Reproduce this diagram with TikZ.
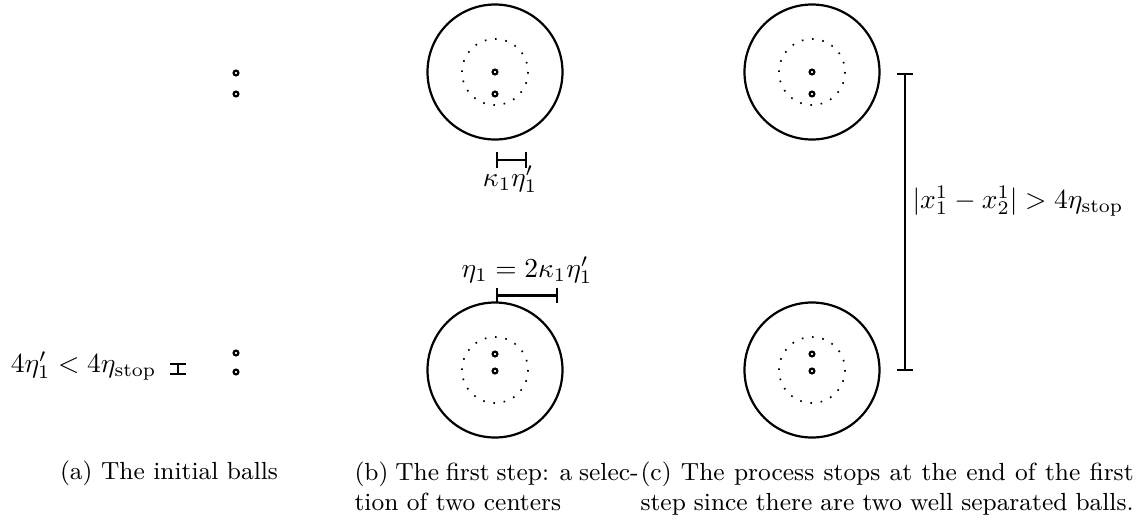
\documentclass[tikz,border=0pt]{standalone}
\usetikzlibrary{arrows.meta}
\begin{document}
\begin{tikzpicture}[x=0.3636pt,y=-0.3636pt,
    ball/.style={thick},
    core/.style={line width=0.6pt, dash pattern=on 0.6pt off 3.17pt},
    ctr/.style={thick},
    gap/.style={thick, {Bar[width=5.5pt]}-{Bar[width=5.5pt]}},
    lbl/.style={inner sep=0pt},
    capt/.style={inner sep=0pt, anchor=north west, align=justify, font=\small}]
    \useasboundingbox (0,0) rectangle (1139,521);

    % (a) the initial balls
    \foreach \y in {73,94,353,372}
        \draw[ctr] (236,\y) circle (2.4);
    \coordinate (a1) at (178,363);
    \coordinate (a2) at (178,375);
    \draw[gap] (a1) -- (a2);
    \node[lbl, anchor=base east] (la) at (157,372) {$4\eta'_1 < 4\eta_{\mathrm{stop}}$};

    % (b) first step
    \draw[ball] (495,72) circle (67.5);
    \draw[core] (495,72) circle (33);
    \draw[ctr] (495,72) circle (2.4);
    \draw[ctr] (495,94) circle (2.4);
    \coordinate (b1) at (496,160);
    \coordinate (b2) at (527,160);
    \draw[gap] (b1) -- (b2);
    \node[lbl, anchor=base] (lb1) at (510,186) {$\kappa_1\eta'_1$};

    \draw[ball] (495,370) circle (67.5);
    \draw[core] (495,370) circle (33);
    \draw[ctr] (495,354) circle (2.4);
    \draw[ctr] (495,371) circle (2.4);
    \coordinate (b3) at (496,295.5);
    \coordinate (b4) at (558,295.5);
    \draw[gap] (b3) -- (b4);
    \node[lbl, anchor=base] (lb2) at (527,277) {$\eta_1 = 2\kappa_1\eta'_1$};

    % (c) the process stops
    \draw[ball] (812,72) circle (67.5);
    \draw[core] (812,72) circle (33);
    \draw[ctr] (812,72) circle (2.4);
    \draw[ctr] (812,94) circle (2.4);
    \draw[ball] (812,370) circle (67.5);
    \draw[core] (812,370) circle (33);
    \draw[ctr] (812,354) circle (2.4);
    \draw[ctr] (812,371) circle (2.4);
    \coordinate (c1) at (905,73);
    \coordinate (c2) at (905,371);
    \draw[gap] (c1) -- (c2);
    \node[lbl, anchor=base west] (lc) at (912,208) {$|x^1_1 - x^1_2| > 4\eta_{\mathrm{stop}}$};

    % captions
    \node[lbl, anchor=base, font=\small] (capa) at (169,479) {(a) The initial balls};
    \node[capt, text width=103.3pt] (capb) at (354,461)
        {(b) The first step: a selec-\linebreak tion of two centers};
    \node[capt, text width=179.3pt] (capc) at (640,461)
        {(c) The process stops at the end of the first\linebreak step since there are two well separated balls.};
\end{tikzpicture}
\end{document}
